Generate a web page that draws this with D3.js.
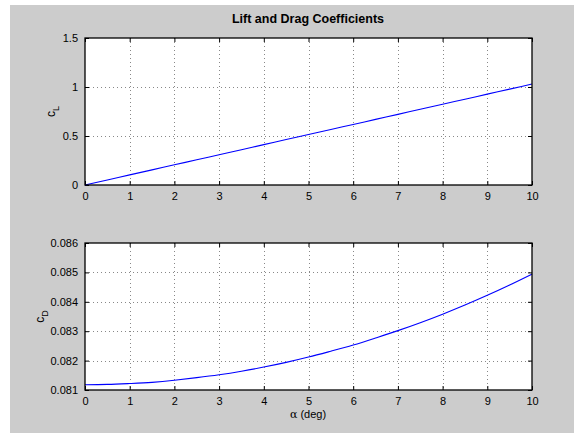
<!DOCTYPE html>
<html>
<head>
<meta charset="utf-8">
<script src="https://cdn.jsdelivr.net/npm/d3@7"></script>
<style>
  body { margin: 0; background: #fff; }
  svg text { font-family: "Liberation Sans", Arial, Helvetica, sans-serif; fill: #000; }
</style>
</head>
<body>
<div id="chart"></div>
<script>
// angle of attack (deg)
var alpha = [0, 0.5, 1, 1.5, 2, 2.5, 3, 3.5, 4, 4.5, 5, 5.5, 6, 6.5, 7, 7.5, 8, 8.5, 9, 9.5, 10];
// lift coefficient
var cL = [0, 0.0515, 0.103, 0.1545, 0.206, 0.2575, 0.309, 0.3605, 0.412, 0.4635, 0.515,
          0.5665, 0.618, 0.6695, 0.721, 0.7725, 0.824, 0.8755, 0.927, 0.9785, 1.03];
// drag coefficient
var cD = [0.08118, 0.08119, 0.08122, 0.08126, 0.08133, 0.08142, 0.08152, 0.08164, 0.08178, 0.08194, 0.08212,
          0.08232, 0.08253, 0.08277, 0.08302, 0.08329, 0.08358, 0.08389, 0.08422, 0.08457, 0.08494];

var xTicks = [0, 1, 2, 3, 4, 5, 6, 7, 8, 9, 10];
var cLTicks = [0, 0.5, 1, 1.5];
var cDTicks = [0.081, 0.082, 0.083, 0.084, 0.085, 0.086];

var width = 574, height = 433;

var svg = d3.select("#chart").append("svg")
    .attr("width", width)
    .attr("height", height);

// grey figure background
svg.append("rect")
    .attr("x", 10).attr("y", 5)
    .attr("width", width - 10).attr("height", height - 5)
    .attr("fill", "#cccccc");

svg.append("text")
    .attr("x", 308).attr("y", 23)
    .attr("text-anchor", "middle")
    .style("font-size", "12.5px")
    .style("font-weight", "bold")
    .text("Lift and Drag Coefficients");

var left = 85, right = 532;

function panel(top, bottom, ys, yDomain, yTicks, yFmt, sub, labX) {
    var x = d3.scaleLinear().domain([0, 10]).range([left, right]);
    var y = d3.scaleLinear().domain(yDomain).range([bottom, top]);
    var g = svg.append("g");

    g.append("rect")
        .attr("x", left).attr("y", top)
        .attr("width", right - left).attr("height", bottom - top)
        .attr("fill", "#fff");

    // dotted grid
    g.selectAll(".vg").data(xTicks.slice(1, -1)).enter().append("line")
        .attr("x1", function(d) { return Math.round(x(d)) + 0.5; })
        .attr("x2", function(d) { return Math.round(x(d)) + 0.5; })
        .attr("y1", top).attr("y2", bottom)
        .attr("stroke", "#888").attr("stroke-width", 1)
        .attr("stroke-dasharray", "1,3");
    g.selectAll(".hg").data(yTicks.slice(1, -1)).enter().append("line")
        .attr("y1", function(d) { return Math.round(y(d)) + 0.5; })
        .attr("y2", function(d) { return Math.round(y(d)) + 0.5; })
        .attr("x1", left).attr("x2", right)
        .attr("stroke", "#888").attr("stroke-width", 1)
        .attr("stroke-dasharray", "1,3");

    // inward ticks on all four sides
    var xb = d3.axisBottom(x).tickValues(xTicks).tickSize(-4).tickPadding(7).tickFormat(d3.format("d"));
    var xt = d3.axisTop(x).tickValues(xTicks).tickSize(-4).tickFormat("");
    var yl = d3.axisLeft(y).tickValues(yTicks).tickSize(-4).tickPadding(7).tickFormat(yFmt);
    var yr = d3.axisRight(y).tickValues(yTicks).tickSize(-4).tickFormat("");

    [[xb, "translate(0," + bottom + ")"], [xt, "translate(0," + top + ")"],
     [yl, "translate(" + left + ",0)"], [yr, "translate(" + right + ",0)"]].forEach(function(a) {
        var ax = g.append("g").attr("transform", a[1]).call(a[0]);
        ax.select(".domain").remove();
        ax.selectAll("line").attr("stroke", "#000");
        ax.selectAll("text").style("font-size", "11px").attr("fill", "#000")
            .style("font-family", "'Liberation Sans', Arial, sans-serif");
    });

    var line = d3.line()
        .x(function(d, i) { return x(alpha[i]); })
        .y(function(d) { return y(d); })
        .curve(d3.curveNatural);

    g.append("path")
        .datum(ys)
        .attr("d", line)
        .attr("fill", "none")
        .attr("stroke", "#0000ff")
        .attr("stroke-width", 1.1);

    g.append("rect")
        .attr("x", left).attr("y", top)
        .attr("width", right - left).attr("height", bottom - top)
        .attr("fill", "none").attr("stroke", "#000").attr("stroke-width", 1.3);

    // y label with subscript
    var lab = g.append("text")
        .attr("transform", "translate(" + labX + "," + ((top + bottom) / 2) + ") rotate(-90)")
        .attr("text-anchor", "middle")
        .style("font-size", "12px");
    lab.append("tspan").text("c");
    lab.append("tspan").attr("dy", 4).style("font-size", "9px").text(sub);

    return x;
}

panel(38, 185, cL, [0, 1.5], cLTicks, function(d) { return String(d); }, "L", 55);
panel(243, 390, cD, [0.081, 0.086], cDTicks, d3.format(".3f"), "D", 44);

var xl = svg.append("text")
    .attr("x", 308).attr("y", 418)
    .attr("text-anchor", "middle")
    .style("font-size", "11px");
xl.append("tspan").style("font-family", "'DejaVu Serif', 'Liberation Serif', serif").text("α");
xl.append("tspan").text(" (deg)");
</script>
</body>
</html>
